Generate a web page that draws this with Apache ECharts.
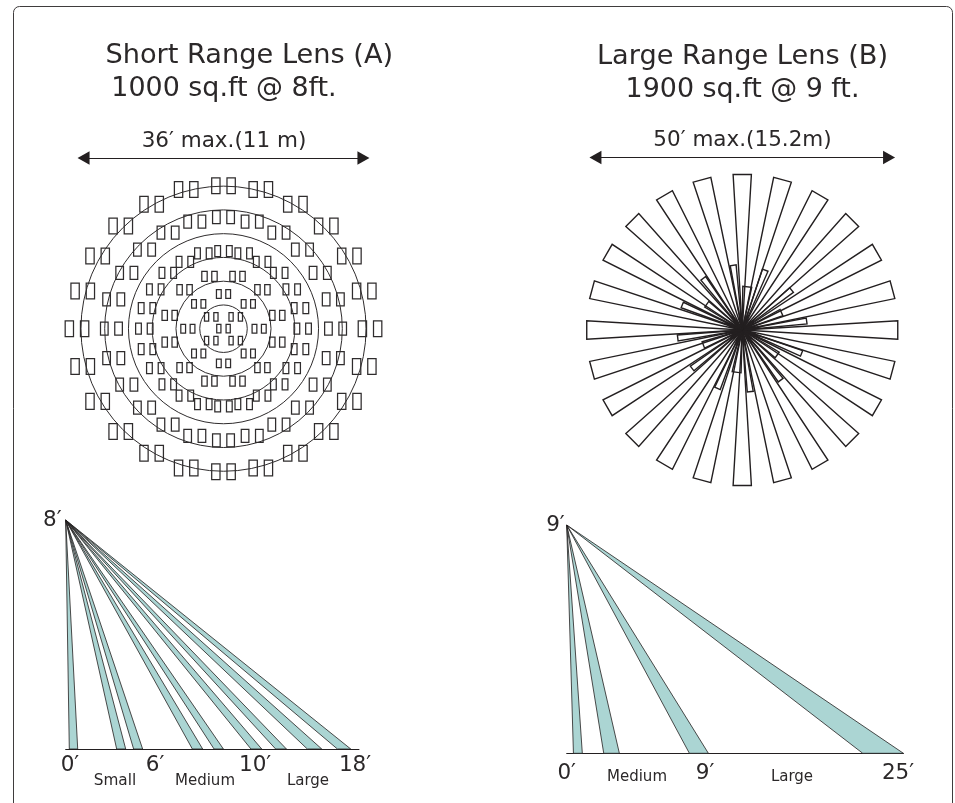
<!DOCTYPE html>
<html>
<head>
<meta charset="utf-8">
<style>html,body{margin:0;padding:0;background:#fff}#c{width:955px;height:803px}</style>
<script src="https://cdn.jsdelivr.net/npm/echarts@6/dist/echarts.min.js"></script>
</head>
<body>
<div id="c"></div>
<script>
// ---- Lens A coverage, feet from the centre ----
const ringRadiiA = [3, 6, 9, 12, 15, 18];
// Each zone pair: [bearing deg, radius ft]
const zonesCentre = [[0, 0], [46, 2.15], [134, 2.15], [226, 2.15], [314, 2.15]];
const zonesInner = [[0, 4.38], [45, 4.43], [90, 4.5], [135, 4.43], [180, 4.38], [225, 4.43], [270, 4.5], [315, 4.43]];
const zonesSmall = [[15, 6.84], [45, 6.95], [76, 7.0], [104, 7.0], [135, 6.95], [165, 6.84], [195, 6.84], [225, 6.95], [256, 7.0], [284, 7.0], [315, 6.95], [345, 6.84]];
const zonesMidIn = [[0, 9.8], [15, 9.85], [30, 9.75], [45, 9.95], [60, 9.95], [75, 10.0], [90, 10.0], [105, 10.0], [120, 9.95], [135, 9.95], [150, 9.75], [165, 9.85],
  [180, 9.8], [195, 9.85], [210, 9.75], [225, 9.95], [240, 9.95], [255, 10.0], [270, 10.0], [285, 10.0], [300, 9.95], [315, 9.95], [330, 9.75], [345, 9.85]];
const zonesMidOut = [[0, 14.1], [15, 14.0], [30, 14.0], [45, 14.1], [60, 14.1], [75, 14.35], [90, 14.15], [105, 14.35], [120, 14.1], [135, 14.1], [150, 14.0], [165, 14.0],
  [180, 14.1], [195, 14.0], [210, 14.0], [225, 14.1], [240, 14.1], [255, 14.35], [270, 14.15], [285, 14.35], [300, 14.1], [315, 14.1], [330, 14.0], [345, 14.0]];
const zonesOuter = [[0, 18.05], [15, 18.2], [30, 18.15], [45, 18.35], [60, 18.35], [75, 18.4], [90, 18.5], [105, 18.4], [120, 18.35], [135, 18.35], [150, 18.15], [165, 18.2],
  [180, 18.05], [195, 18.2], [210, 18.15], [225, 18.35], [240, 18.35], [255, 18.4], [270, 18.5], [285, 18.4], [300, 18.35], [315, 18.35], [330, 18.15], [345, 18.2]];

// ---- Lens B coverage: [bearing deg, length ft, half width ft] ----
const longBeamsB = [[0, 25, 1.47], [15, 25, 1.47], [30, 25, 1.47], [45, 25, 1.47], [60, 25, 1.47], [75, 25, 1.47], [90, 25, 1.47], [105, 25, 1.47], [120, 25, 1.47], [135, 25, 1.47], [150, 25, 1.47], [165, 25, 1.47],
  [180, 25, 1.47], [195, 25, 1.47], [210, 25, 1.47], [225, 25, 1.47], [240, 25, 1.47], [255, 25, 1.47], [270, 25, 1.47], [285, 25, 1.47], [300, 25, 1.47], [315, 25, 1.47], [330, 25, 1.47], [345, 25, 1.47]];
const shortBeamsB = [[-8, 10.5, .48], [6.6, 7.0, .72], [21, 10.3, .48], [51, 10.2, .48], [66, 6.9, .55], [82, 10.45, .48], [111.5, 10.25, .48], [125.5, 6.9, .55], [142.5, 10.15, .48],
  [172.6, 10.0, .48], [187.6, 6.85, .72], [203, 10.2, .48], [232.5, 10.15, .48], [249, 6.7, .55], [263, 10.45, .48], [292.6, 10.45, .48], [306, 7.05, .55], [323, 10.4, .48]];

// ---- Side views: [near ft, far ft] where each beam meets the floor ----
const sideBeamsA = [[0.23, 0.76], [3.22, 3.79], [4.29, 4.86], [8.0, 8.65], [9.37, 9.96], [11.7, 12.38], [13.26, 13.94], [15.26, 16.17], [17.16, 18.0]];
const sideBeamsB = [[0.5, 1.16], [2.75, 3.91], [9.11, 10.52], [21.98, 25.0]];
const tickValuesA = [0.27, 5.64, 11.96, 18.27];
const tickLabelsA = ['0′', '6′', '10′', '18′'];
const tickValuesB = [0, 10.27, 24.6];
const tickLabelsB = ['0′', '9′', '25′'];
const mountA = 8, mountB = 9;

const INK = '#231f20', TEAL = '#abd5d3', TXT = '#2b2829';
const FONT = '"DejaVu Sans", Verdana, sans-serif';
const rad = d => d * Math.PI / 180;

const chart = echarts.init(document.getElementById('c'), null, {renderer: 'canvas'});

function ringSeries(arrowHalf, arrowY) {
  return {
    type: 'custom', xAxisIndex: 0, yAxisIndex: 0, clip: false, silent: true,
    data: ringRadiiA.map(r => [r]),
    encode: {x: 0, y: -1},
    renderItem(p, api) {
      const c = api.coord([0, 0]);
      return {type: 'circle', shape: {cx: c[0], cy: c[1], r: api.size([api.value(0), 0])[0]},
        style: {fill: 'transparent', stroke: '#2f2c2d', lineWidth: 1}};
    },
    markLine: arrowMark(arrowHalf, arrowY)
  };
}
function arrowMark(h, y) {
  return {silent: true, animation: false, symbol: ['triangle', 'triangle'], symbolSize: [13.5, 12],
    label: {show: false}, lineStyle: {color: INK, width: 1.2, type: 'solid'},
    data: [[{coord: [-h, y]}, {coord: [h, y]}]]};
}
function zoneSeries(data, w, h, gap) {
  return {
    type: 'custom', xAxisIndex: 0, yAxisIndex: 0, clip: false, silent: true,
    data, encode: {x: 0, y: 1},
    renderItem(p, api) {
      const b = rad(api.value(0)), r = api.value(1);
      const x = r * Math.sin(b), y = r * Math.cos(b);
      const L = api.coord([x - gap / 2, y]), R = api.coord([x + gap / 2, y]);
      const s = api.size([w, h]);
      const cell = c => ({type: 'rect', shape: {x: c[0] - s[0] / 2, y: c[1] - s[1] / 2, width: s[0], height: s[1]},
        style: {fill: 'transparent', stroke: '#2f2c2d', lineWidth: 1.25}});
      return {type: 'group', children: [cell(L), cell(R)]};
    }
  };
}
function wedgeSeries(data) {
  return {
    type: 'custom', xAxisIndex: 1, yAxisIndex: 1, clip: false, silent: true,
    data, encode: {x: 0, y: 1},
    renderItem(p, api) {
      const b = rad(api.value(0)), l = api.value(1), w = api.value(2);
      const sx = Math.sin(b), cx = Math.cos(b);
      const pts = [[0, 0], [l * sx - w * cx, l * cx + w * sx], [l * sx + w * cx, l * cx - w * sx]].map(q => api.coord(q));
      return {type: 'polygon', shape: {points: pts}, style: {fill: 'transparent', stroke: INK, lineWidth: 1.4}};
    }
  };
}
function sideSeries(data, idx, mount, lw) {
  return {
    type: 'custom', xAxisIndex: idx, yAxisIndex: idx, clip: false, silent: true,
    data, encode: {x: 0, y: -1},
    renderItem(p, api) {
      const pts = [[0, mount], [api.value(0), 0], [api.value(1), 0]].map(q => api.coord(q));
      return {type: 'polygon', shape: {points: pts}, style: {fill: TEAL, stroke: INK, lineWidth: lw}};
    }
  };
}
const hiddenAxis = (min, max) => ({type: 'value', min, max, show: false});
function sideX(gi, max, vals, labs, margin) {
  return {type: 'value', gridIndex: gi, min: 0, max, splitLine: {show: false}, axisTick: {show: false},
    axisLine: {show: true, onZero: false, lineStyle: {color: INK, width: 1}},
    axisLabel: {customValues: vals, formatter: v => labs[vals.indexOf(v)], margin, color: TXT, fontFamily: FONT, fontSize: 21.5}};
}
function sideY(gi, max, margin) {
  return {type: 'value', gridIndex: gi, min: 0, max, splitLine: {show: false}, axisTick: {show: false}, axisLine: {show: false},
    axisLabel: {customValues: [max], formatter: () => max + '′', margin, color: TXT, fontFamily: FONT, fontSize: 21.5}};
}
const label = (text, left, top, size) => ({text, left, top, textAlign: 'center', textVerticalAlign: 'middle', padding: 0,
  textStyle: {color: TXT, fontFamily: FONT, fontSize: size, fontWeight: 'normal'}});

chart.setOption({
  animation: false,
  backgroundColor: '#fff',
  title: [
    label('Short Range Lens (A)', 249.3, 56, 27.2),
    label('1000 sq.ft @ 8ft.', 224, 89, 26.9),
    label('36′ max.(11 m)', 224, 141, 21.5),
    label('Large Range Lens (B)', 742.5, 57, 27.2),
    label('1900 sq.ft @ 9 ft.', 742.5, 90, 26.9),
    label('50′ max.(15.2m)', 742.5, 140, 21.5),
    label('Small', 115, 780.7, 15.3),
    label('Medium', 205, 780.7, 15),
    label('Large', 308, 780.7, 15),
    label('Medium', 637, 776.7, 15),
    label('Large', 792, 776.7, 15)
  ],
  graphic: [{type: 'rect', silent: true, z: -1, shape: {x: 13.5, y: 6.5, width: 939, height: 840, r: 6},
    style: {fill: 'transparent', stroke: '#3f3c3d', lineWidth: 1}}],
  grid: [
    {left: 65.1, top: 138.6, width: 316.8, height: 380.2},
    {left: 574.3, top: 143.4, width: 335.9, height: 373.2},
    {left: 65.67, top: 520, width: 293.3, height: 229},
    {left: 566.7, top: 525, width: 336.7, height: 228.3}
  ],
  xAxis: [
    Object.assign(hiddenAxis(-20, 20), {gridIndex: 0}),
    Object.assign(hiddenAxis(-27, 27), {gridIndex: 1}),
    sideX(2, 18.52, tickValuesA, tickLabelsA, 5),
    sideX(3, 25, tickValuesB, tickLabelsB, 9)
  ],
  yAxis: [
    Object.assign(hiddenAxis(-24, 24), {gridIndex: 0}),
    Object.assign(hiddenAxis(-30, 30), {gridIndex: 1}),
    sideY(2, mountA, 4),
    sideY(3, mountB, 2)
  ],
  series: [
    ringSeries(17.67, 21.55),
    zoneSeries(zonesCentre, .53, 1.07, 1.18),
    zoneSeries(zonesInner, .6, 1.1, 1.18),
    zoneSeries(zonesSmall, .68, 1.27, 1.26),
    zoneSeries(zonesMidIn, .72, 1.39, 1.47),
    zoneSeries(zonesMidOut, .96, 1.64, 1.8),
    zoneSeries(zonesOuter, 1.05, 2.0, 1.93),
    Object.assign(wedgeSeries(longBeamsB), {markLine: arrowMark(23.6, 27.75)}),
    wedgeSeries(shortBeamsB),
    sideSeries(sideBeamsA, 2, mountA, 0.8),
    sideSeries(sideBeamsB, 3, mountB, 0.8)
  ]
});
</script>
</body>
</html>
